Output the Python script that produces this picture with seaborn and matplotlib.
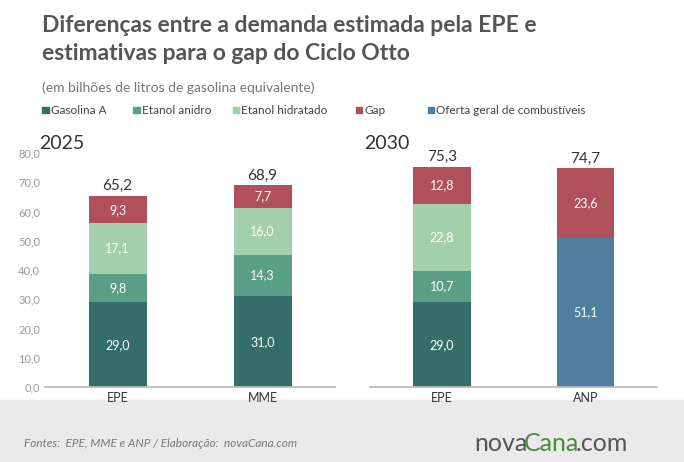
import matplotlib
matplotlib.use("Agg")
import matplotlib.pyplot as plt
import seaborn as sns
import pandas as pd
from matplotlib.patches import Rectangle

sns.set_theme(style="white")
plt.rcParams['font.family'] = ['Lato', 'DejaVu Sans']

series = ["Gasolina A", "Etanol anidro", "Etanol hidratado", "Gap", "Oferta geral de combustíveis"]
colors = ["#356e68", "#5a9e86", "#a3cfac", "#b0505a", "#4f7f9e"]
cats_2025 = ["EPE", "MME"]
vals_2025 = {"Gasolina A": [29.0, 31.0], "Etanol anidro": [9.8, 14.3],
             "Etanol hidratado": [17.1, 16.0], "Gap": [9.3, 7.7],
             "Oferta geral de combustíveis": [0, 0]}
tot_2025 = [65.2, 68.9]
cats_2030 = ["EPE", "ANP"]
vals_2030 = {"Gasolina A": [29.0, 0], "Etanol anidro": [10.7, 0],
             "Etanol hidratado": [22.8, 0], "Gap": [12.8, 23.6],
             "Oferta geral de combustíveis": [0, 51.1]}
tot_2030 = [75.3, 74.7]
order = ["Gasolina A", "Etanol anidro", "Etanol hidratado", "Oferta geral de combustíveis", "Gap"]

fig = plt.figure(figsize=(6.84, 4.62), dpi=100)
fig.patch.set_facecolor("white")
fig.add_artist(Rectangle((0, 0), 1, 62/462, transform=fig.transFigure, color="#e9eae9", zorder=0))
ax1 = fig.add_axes([0.066, 0.162, 0.424, 0.507])
ax2 = fig.add_axes([0.541, 0.162, 0.42, 0.507])

def draw(ax, cats, vals, tots, year, yt):
    bottom = [0.0] * len(cats)
    for s in order:
        v = vals[s]
        df = pd.DataFrame({"cat": cats, "v": v})
        sns.barplot(data=df, x="cat", y="v", ax=ax, color=colors[series.index(s)],
                    width=0.4, bottom=bottom, saturation=1, linewidth=0)
        for i, val in enumerate(v):
            if val > 0:
                ax.text(i, bottom[i] + val / 2, f"{val:.1f}".replace(".", ","), ha="center",
                        va="center", color="white", fontsize=9)
        bottom = [b + x for b, x in zip(bottom, v)]
    for i, t in enumerate(tots):
        ax.text(i, t + 1, f"{t:.1f}".replace(".", ","), ha="center", va="bottom", fontsize=11, color="#333333")
    ax.set_xlim(-0.5, 1.5)
    ax.set_ylim(0, 80)
    ax.set_xlabel(""); ax.set_ylabel("")
    for sp in ["top", "right", "left"]:
        ax.spines[sp].set_visible(False)
    ax.spines["bottom"].set_color("#bbbbbb")
    ax.tick_params(axis="x", labelsize=9, colors="#333333", length=0)
    ax.set_facecolor("none")
    if yt:
        ax.set_yticks(range(0, 81, 10))
        ax.set_yticklabels([f"{y},0" for y in range(0, 81, 10)], fontsize=8, color="#999999")
        ax.tick_params(axis="y", length=0)
    else:
        ax.set_yticks([])
    ax.text(-0.02, 1.04, year, transform=ax.transAxes, fontsize=14, color="#333333", ha="left", va="center")

draw(ax1, cats_2025, vals_2025, tot_2025, "2025", True)
draw(ax2, cats_2030, vals_2030, tot_2030, "2030", False)

fig.text(0.062, 0.93, "Diferenças entre a demanda estimada pela EPE e", fontsize=16.5, color="#555555", weight="bold")
fig.text(0.062, 0.87, "estimativas para o gap do Ciclo Otto", fontsize=16.5, color="#555555", weight="bold")
fig.text(0.062, 0.8, "(em bilhões de litros de gasolina equivalente)", fontsize=10, color="#777777")
xs = [0.062, 0.195, 0.34, 0.52, 0.625]
for x, s, c in zip(xs, series, colors):
    fig.add_artist(Rectangle((x, 0.755), 0.009, 0.013, transform=fig.transFigure, color=c))
    fig.text(x + 0.013, 0.761, s, fontsize=8.5, color="#444444", va="center")
fig.text(0.035, 0.04, "Fontes:  EPE, MME e ANP / Elaboração:  novaCana.com", fontsize=8.5,
         style="italic", color="#777777", va="center")
fig.text(0.694, 0.04, "nova", fontsize=18, color="#555555", va="center")
fig.text(0.766, 0.04, "Cana", fontsize=18, color="#4a8a3c", va="center")
fig.text(0.842, 0.04, ".com", fontsize=18, color="#555555", va="center")

fig.savefig("out.png", dpi=100)
